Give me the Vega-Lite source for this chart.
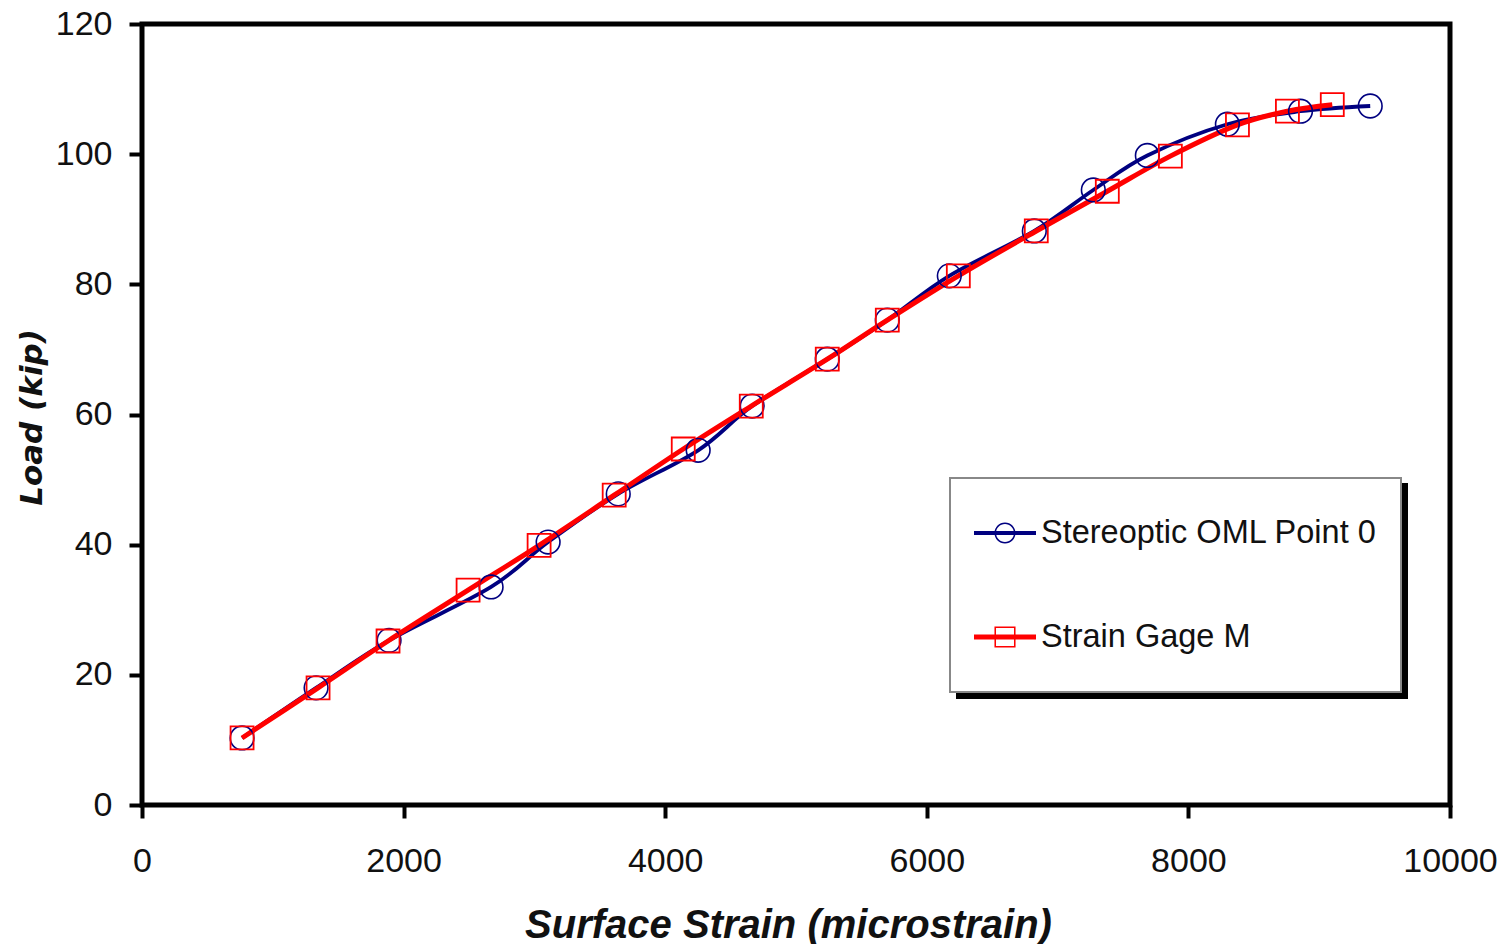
{
  "$schema": "https://vega.github.io/schema/vega-lite/v6.json",
  "width": 1308,
  "height": 781,
  "autosize": "none",
  "padding": {"left": 142, "top": 24, "right": 59, "bottom": 139},
  "background": "white",
  "config": {
    "view": {"stroke": "black", "strokeWidth": 5},
    "axis": {
      "grid": false,
      "domain": false,
      "tickColor": "black",
      "tickWidth": 4,
      "tickSize": 13,
      "labelFont": "Liberation Sans",
      "labelFontSize": 34,
      "labelColor": "#111111",
      "titleColor": "#111111",
      "labelOverlap": false
    }
  },
  "data": {
    "values": [
      {"series": "Stereoptic OML Point 0", "strain": 765, "load": 10.3},
      {"series": "Stereoptic OML Point 0", "strain": 1331, "load": 18.0},
      {"series": "Stereoptic OML Point 0", "strain": 1889, "load": 25.3},
      {"series": "Stereoptic OML Point 0", "strain": 2669, "load": 33.5},
      {"series": "Stereoptic OML Point 0", "strain": 3105, "load": 40.4},
      {"series": "Stereoptic OML Point 0", "strain": 3641, "load": 47.8},
      {"series": "Stereoptic OML Point 0", "strain": 4252, "load": 54.5},
      {"series": "Stereoptic OML Point 0", "strain": 4665, "load": 61.3},
      {"series": "Stereoptic OML Point 0", "strain": 5239, "load": 68.5},
      {"series": "Stereoptic OML Point 0", "strain": 5698, "load": 74.5},
      {"series": "Stereoptic OML Point 0", "strain": 6172, "load": 81.3},
      {"series": "Stereoptic OML Point 0", "strain": 6822, "load": 88.2},
      {"series": "Stereoptic OML Point 0", "strain": 7273, "load": 94.5},
      {"series": "Stereoptic OML Point 0", "strain": 7686, "load": 99.8},
      {"series": "Stereoptic OML Point 0", "strain": 8298, "load": 104.6},
      {"series": "Stereoptic OML Point 0", "strain": 8857, "load": 106.6},
      {"series": "Stereoptic OML Point 0", "strain": 9390, "load": 107.4},
      {"series": "Strain Gage M", "strain": 765, "load": 10.3},
      {"series": "Strain Gage M", "strain": 1346, "load": 18.0},
      {"series": "Strain Gage M", "strain": 1881, "load": 25.2},
      {"series": "Strain Gage M", "strain": 2493, "load": 33.0},
      {"series": "Strain Gage M", "strain": 3036, "load": 39.9},
      {"series": "Strain Gage M", "strain": 3610, "load": 47.6},
      {"series": "Strain Gage M", "strain": 4138, "load": 54.7},
      {"series": "Strain Gage M", "strain": 4658, "load": 61.3},
      {"series": "Strain Gage M", "strain": 5239, "load": 68.5},
      {"series": "Strain Gage M", "strain": 5698, "load": 74.5},
      {"series": "Strain Gage M", "strain": 6241, "load": 81.3},
      {"series": "Strain Gage M", "strain": 6837, "load": 88.2},
      {"series": "Strain Gage M", "strain": 7380, "load": 94.3},
      {"series": "Strain Gage M", "strain": 7862, "load": 99.7},
      {"series": "Strain Gage M", "strain": 8375, "load": 104.5},
      {"series": "Strain Gage M", "strain": 8757, "load": 106.6},
      {"series": "Strain Gage M", "strain": 9100, "load": 107.6}
    ]
  },
  "layer": [
    {
      "mark": {"type": "line", "interpolate": "cardinal"},
      "encoding": {
        "x": {
          "field": "strain",
          "type": "quantitative",
          "scale": {"domain": [0, 10000], "nice": false, "zero": false},
          "axis": {
            "values": [0, 2000, 4000, 6000, 8000, 10000],
            "format": "d",
            "labelFlush": false,
            "labelPadding": 26,
            "title": "Surface Strain (microstrain)",
            "titleFont": "Liberation Sans",
            "titleFontSize": 40,
            "titleFontWeight": "bold",
            "titleFontStyle": "italic",
            "titleX": 646,
            "titleY": 132,
            "titleAlign": "center",
            "titleBaseline": "alphabetic"
          }
        },
        "y": {
          "field": "load",
          "type": "quantitative",
          "scale": {"domain": [0, 120], "nice": false},
          "axis": {
            "values": [0, 20, 40, 60, 80, 100, 120],
            "format": "d",
            "labelPadding": 17,
            "title": "Load (kip)",
            "titleFont": "DejaVu Sans",
            "titleFontSize": 31,
            "titleFontWeight": "bold",
            "titleFontStyle": "italic",
            "titleX": -110,
            "titleY": 393,
            "titleAngle": -90,
            "titleAlign": "center",
            "titleBaseline": "middle"
          }
        },
        "color": {
          "field": "series",
          "type": "nominal",
          "scale": {"domain": ["Stereoptic OML Point 0", "Strain Gage M"], "range": ["#000080", "#ff0000"]},
          "legend": {
            "title": null,
            "orient": "none",
            "legendX": 808,
            "legendY": 454,
            "fillColor": "white",
            "strokeColor": "#888888",
            "padding": 24,
            "symbolSize": 3844,
            "labelFont": "Liberation Sans",
            "labelFontSize": 32.5,
            "labelColor": "#111111",
            "labelOffset": 5,
            "labelLimit": 0,
            "rowPadding": 42,
            "zindex": 2,
            "encode": {
              "symbols": {
                "update": {
                  "shape": {"signal": "datum.value == 'Strain Gage M' ? 'M0,-1L0,-1Z M0,1L0,1Z M-1,-0.08H1V0.08H-1Z M-0.34,-0.34H0.34V0.34H-0.34Z M-0.29,-0.29V0.29H0.29V-0.29Z' : 'M0,-1L0,-1Z M0,1L0,1Z M-1,-0.065H1V0.065H-1Z M0.34,0A0.34,0.34 0 1,1 -0.34,0A0.34,0.34 0 1,1 0.34,0Z M0.29,0A0.29,0.29 0 1,0 -0.29,0A0.29,0.29 0 1,0 0.29,0Z'"},
                  "fill": {"scale": "color", "field": "value"},
                  "fillOpacity": {"value": 1},
                  "stroke": {"value": "transparent"},
                  "strokeWidth": {"value": 0},
                  "opacity": {"value": 1}
                }
              },
              "legend": {"update": {"strokeWidth": {"value": 2}}}
            }
          }
        },
        "strokeWidth": {
          "field": "series",
          "type": "nominal",
          "scale": {"range": [3.8, 5]},
          "legend": {
            "title": null,
            "orient": "none",
            "legendX": 815,
            "legendY": 460,
            "fillColor": "black",
            "strokeColor": "black",
            "padding": 24,
            "symbolSize": 3844,
            "symbolOpacity": 0,
            "labelFont": "Liberation Sans",
            "labelFontSize": 32.5,
            "labelColor": "black",
            "labelOffset": 335,
            "labelLimit": 0,
            "rowPadding": 37,
            "zindex": 1,
            "encode": {
              "symbols": {
                "update": {
                  "shape": {"value": "M0,-1L0,-1Z M0,1L0,1Z M-1,-0.065H1V0.065H-1Z"},
                  "opacity": {"value": 0}
                }
              },
              "labels": {"update": {"text": {"value": ""}}},
              "legend": {"update": {"strokeWidth": {"value": 2}}}
            }
          }
        }
      }
    },
    {
      "transform": [{"filter": "datum.series == 'Stereoptic OML Point 0'"}],
      "mark": {"type": "point", "shape": "circle", "filled": false, "size": 560, "strokeWidth": 1.6, "color": "#000080", "opacity": 1},
      "encoding": {
        "x": {"field": "strain", "type": "quantitative"},
        "y": {"field": "load", "type": "quantitative"}
      }
    },
    {
      "transform": [{"filter": "datum.series == 'Strain Gage M'"}],
      "mark": {"type": "point", "shape": "square", "filled": false, "size": 529, "strokeWidth": 1.8, "color": "#ff0000", "opacity": 1},
      "encoding": {
        "x": {"field": "strain", "type": "quantitative"},
        "y": {"field": "load", "type": "quantitative"}
      }
    }
  ]
}
